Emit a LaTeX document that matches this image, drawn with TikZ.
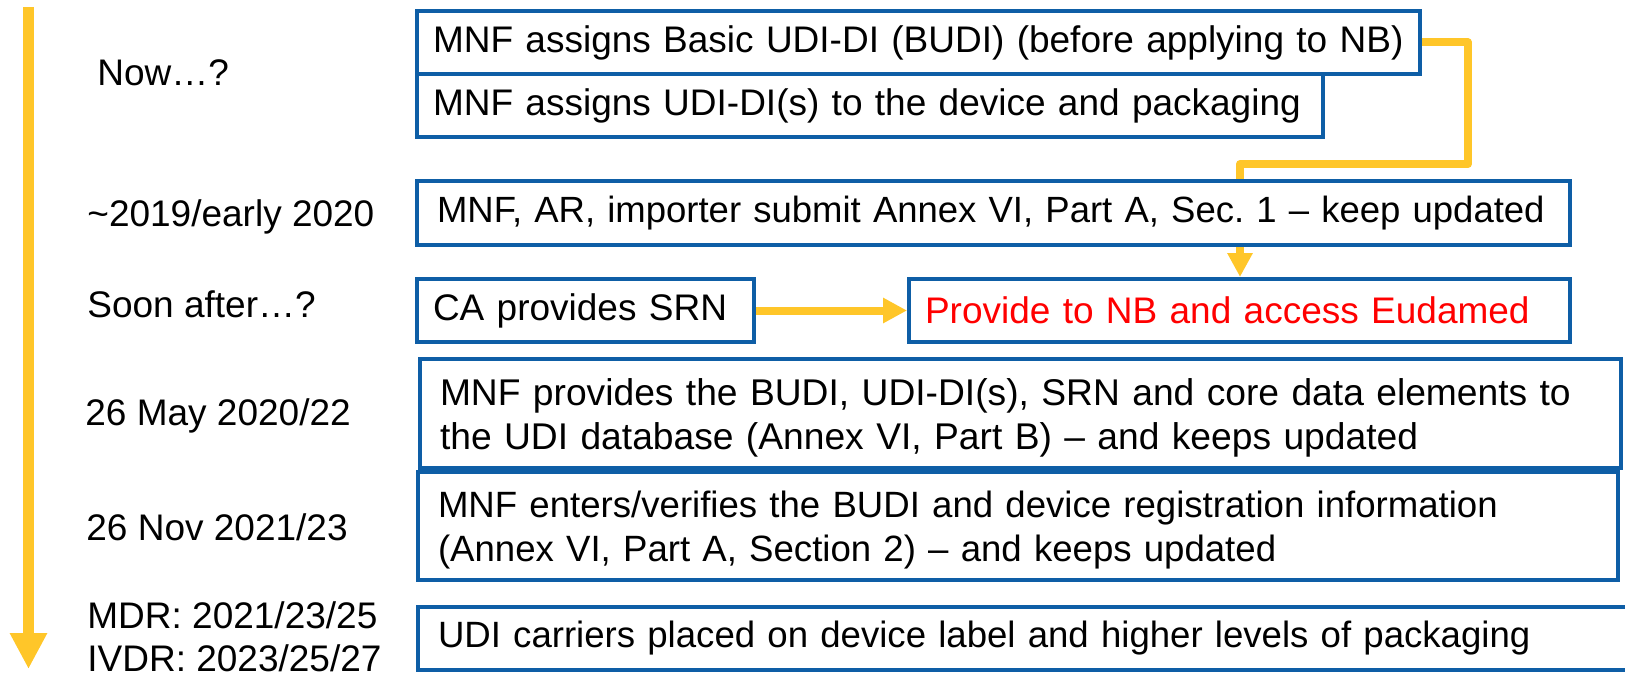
\documentclass[tikz,border=0pt]{standalone}
\usepackage{fontspec}
\setmainfont{Liberation Sans}
\frenchspacing
\usetikzlibrary{positioning,arrows.meta,backgrounds}

\definecolor{boxblue}{RGB}{14,94,166}
\definecolor{udiyellow}{RGB}{255,198,41}
\definecolor{nbred}{RGB}{255,0,0}

\begin{document}
\begin{tikzpicture}[x=0.5pt, y=-0.5pt,
    every node/.style={font=\fontsize{18.5pt}{22pt}\selectfont},
    udibox/.style={draw=boxblue, line width=2pt, fill=white, anchor=north west,
        align=left, inner xsep=8pt, inner ysep=1pt},
    wide pad/.style={inner xsep=10pt},
    stamp/.style={anchor=base west, inner sep=0pt},
    link/.style={draw=udiyellow, line width=4pt, line join=round,
        -{Triangle[width=12pt,length=12pt]}},
    timeline/.style={draw=udiyellow, line width=5.5pt,
        -{Triangle[width=17.5pt,length=18pt]}}]
    % 画布大小
    \useasboundingbox (0,0) rectangle (1625,674);

    % 左侧时间轴
    \coordinate (tltop) at (28.5,7);
    \coordinate (tlend) at (28.5,669);
    \draw[timeline] (tltop) -- (tlend);

    % 时间标注
    \node[stamp] (now) at (97,85) {Now…?};
    \node[stamp] (early) at (87,226) {\textasciitilde 2019/early 2020};
    \node[stamp] (soon) at (87,317) {Soon after…?};
    \node[stamp] (may) at (85,425) {26 May 2020/22};
    \node[stamp] (nov) at (86,540) {26 Nov 2021/23};
    \node[stamp] (mdr) at (87,628) {MDR: 2021/23/25};
    \node[stamp] (ivdr) at (87,671) {IVDR: 2023/25/27};

    % 各步骤方框
    \node[udibox, minimum width=501.5pt, minimum height=31.5pt, text width=485.5pt]
        (budi) at (415,9) {MNF assigns Basic UDI-DI (BUDI) (before applying to NB)};
    \node[udibox, minimum width=453pt, minimum height=31.5pt, text width=437pt]
        (didev) at (415,72) {MNF assigns UDI-DI(s) to the device and packaging};
    \node[udibox, wide pad, minimum width=576.5pt, minimum height=32pt, text width=556.5pt,
        font=\fontsize{18.25pt}{22pt}\selectfont]
        (actor) at (415,179) {MNF, AR, importer submit Annex VI, Part A, Sec. 1 – keep updated};
    \node[udibox, minimum width=168.5pt, minimum height=31.5pt, text width=152.5pt]
        (srn) at (415,277) {CA provides SRN};
    \node[udibox, minimum width=330.5pt, minimum height=31.5pt, text width=314.5pt, text=nbred]
        (eudamed) at (907,277) {Provide to NB and access Eudamed};
    \node[udibox, wide pad, minimum width=600.5pt, minimum height=54.5pt, text width=580.5pt,
        text height=17.5pt, font=\fontsize{18.6pt}{22pt}\selectfont]
        (coredata) at (418,357) {MNF provides the BUDI, UDI-DI(s), SRN and core data elements to\\
        the UDI database (Annex VI, Part B) – and keeps updated};
    \node[udibox, wide pad, minimum width=600pt, minimum height=54pt, text width=580pt,
        text height=17.5pt, font=\fontsize{18.3pt}{22pt}\selectfont]
        (devreg) at (416,470) {MNF enters/verifies the BUDI and device registration information\\
        (Annex VI, Part A, Section 2) – and keeps updated};
    \node[udibox, wide pad, minimum width=615pt, minimum height=31.5pt, text width=595pt,
        font=\fontsize{18.3pt}{22pt}\selectfont]
        (carrier) at (416,605) {UDI carriers placed on device label and higher levels of packaging};

    % 黄色连线(压在方框下面)
    \coordinate (elbow) at (1468,164);
    \coordinate (drop) at (1240,164);
    \begin{scope}[on background layer]
        \draw[link] (budi.east) -| (elbow) -- (drop) -- (drop |- eudamed.north);
    \end{scope}
    \draw[link] (srn) -- (eudamed);

\end{tikzpicture}
\end{document}
